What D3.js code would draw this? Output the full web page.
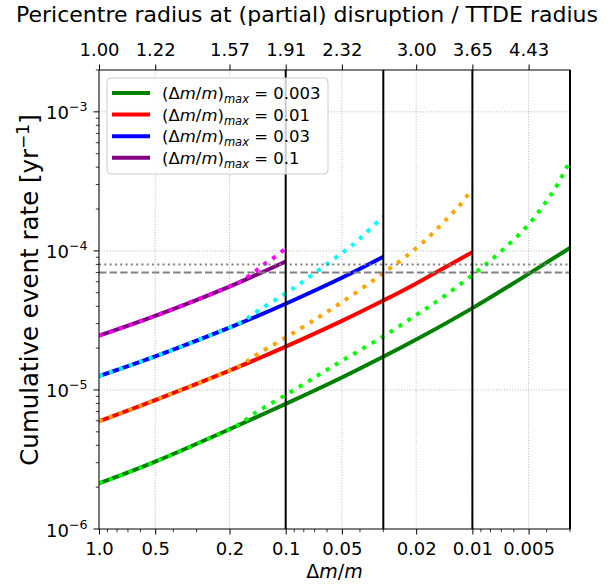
<!DOCTYPE html>
<html><head><meta charset="utf-8">
<script src="https://cdn.jsdelivr.net/npm/d3@7/dist/d3.min.js"></script>
<style>body{margin:0;background:#fff} svg{display:block;font-family:"DejaVu Sans",sans-serif}</style>
</head><body><svg id="c" width="613" height="585"></svg>
<script>
// ---------- data ----------
const xDomain = [1, 0.003];
const yDomain = [1e-6, 2e-3];
const xTickValues = [1, 0.5, 0.2, 0.1, 0.05, 0.02, 0.01, 0.005];
const xTickLabels = ["1.0", "0.5", "0.2", "0.1", "0.05", "0.02", "0.01", "0.005"];
const topTickLabels = ["1.00", "1.22", "1.57", "1.91", "2.32", "3.00", "3.65", "4.43"];
const yTickValues = [1e-6, 1e-5, 1e-4, 1e-3];
const yTickExponents = ["−6", "−5", "−4", "−3"];
const vLines = [0.1, 0.03, 0.01, 0.003];
const hLineDotted = 8e-5;
const hLineDashed = 7e-5;

const legendMax = ["0.003", "0.01", "0.03", "0.1"];
const solidColors = ["green", "red", "blue", "purple"];
const dottedColors = ["lime", "orange", "cyan", "magenta"];

// solid curves
const greenX = [1, 0.5, 0.2, 0.1, 0.05, 0.03, 0.02, 0.01, 0.005, 0.003];
const greenY = [2.13e-6, 3.05e-6, 5.22e-6, 7.94e-6, 1.229e-5, 1.735e-5, 2.304e-5, 3.877e-5, 6.84e-5, 1.051e-4];
const redX = [1, 0.5, 0.2, 0.1, 0.05, 0.03, 0.02, 0.01];
const redY = [5.95e-6, 8.45e-6, 1.379e-5, 2.05e-5, 3.14e-5, 4.4e-5, 5.84e-5, 9.8e-5];
const blueX = [1, 0.5, 0.2, 0.1, 0.05, 0.03];
const blueY = [1.26e-5, 1.745e-5, 2.81e-5, 4.17e-5, 6.41e-5, 9.08e-5];
const purpleX = [1, 0.5, 0.2, 0.1];
const purpleY = [2.46e-5, 3.41e-5, 5.54e-5, 8.4e-5];

// dotted curves
const limeX = [1, 0.5, 0.2, 0.15, 0.1, 0.07, 0.05, 0.03, 0.02, 0.015, 0.01, 0.007, 0.005, 0.004, 0.0035, 0.003];
const limeY = [2.13e-6, 3.05e-6, 5.22e-6, 6.65e-6, 9.2e-6, 1.23e-5, 1.62e-5, 2.43e-5, 3.46e-5, 4.47e-5, 6.7e-5, 9.95e-5, 1.55e-4, 2.29e-4, 3.0e-4, 4.45e-4];
const orangeX = [1, 0.5, 0.2, 0.15, 0.1, 0.07, 0.05, 0.03, 0.02, 0.015, 0.0125, 0.0115, 0.01];
const orangeY = [5.95e-6, 8.45e-6, 1.379e-5, 1.72e-5, 2.38e-5, 3.2e-5, 4.28e-5, 6.9e-5, 1.045e-4, 1.5e-4, 1.93e-4, 2.18e-4, 2.8e-4];
const cyanX = [1, 0.5, 0.2, 0.15, 0.1, 0.07, 0.05, 0.04, 0.03];
const cyanY = [1.26e-5, 1.745e-5, 2.81e-5, 3.5e-5, 4.95e-5, 6.92e-5, 9.64e-5, 1.23e-4, 1.77e-4];
const magentaX = [1, 0.5, 0.2, 0.165, 0.146, 0.132, 0.1166, 0.105, 0.1];
const magentaY = [2.46e-5, 3.41e-5, 5.54e-5, 6.3e-5, 7.1e-5, 7.93e-5, 8.86e-5, 9.9e-5, 1.04e-4];

const solidSeries = [[greenX, greenY], [redX, redY], [blueX, blueY], [purpleX, purpleY]];
const dottedSeries = [[limeX, limeY], [orangeX, orangeY], [cyanX, cyanY], [magentaX, magentaY]];

// ---------- drawing ----------
const L = 99, R = 570, T = 70, B = 529;
const svg = d3.select("#c");
const x = d3.scaleLog().domain(xDomain).range([L, R]);
const y = d3.scaleLog().domain(yDomain).range([B, T]);

svg.append("defs").append("clipPath").attr("id", "clip")
  .append("rect").attr("x", L).attr("y", T).attr("width", R - L).attr("height", B - T);

// grid
const grid = svg.append("g").attr("stroke", "#b0b0b0").attr("stroke-width", 0.9).attr("stroke-dasharray", "1,1.7");
grid.selectAll("line.gx").data(xTickValues).join("line")
  .attr("x1", d => x(d)).attr("x2", d => x(d)).attr("y1", T).attr("y2", B);
grid.selectAll("line.gy").data(yTickValues.filter(v => v > yDomain[0])).join("line")
  .attr("x1", L).attr("x2", R).attr("y1", d => y(d)).attr("y2", d => y(d));

// curves
const plot = svg.append("g").attr("clip-path", "url(#clip)");
const line = d3.line().x(d => x(d[0])).y(d => y(d[1])).curve(d3.curveNatural);
solidSeries.forEach((s, i) => {
  const pts = s[0].map((v, j) => [v, s[1][j]]);
  plot.append("path").attr("d", line(pts)).attr("fill", "none")
    .attr("stroke", solidColors[i]).attr("stroke-width", 4);
  const d = dottedSeries[i];
  const pts2 = d[0].map((v, j) => [v, d[1][j]]);
  plot.append("path").attr("d", line(pts2)).attr("fill", "none")
    .attr("stroke", dottedColors[i]).attr("stroke-width", 4)
    .attr("stroke-dasharray", "4,6.6");
});

// horizontal reference lines
plot.append("line").attr("x1", L).attr("x2", R).attr("y1", y(hLineDotted)).attr("y2", y(hLineDotted))
  .attr("stroke", "gray").attr("stroke-width", 2).attr("stroke-dasharray", "2,3.3");
plot.append("line").attr("x1", L).attr("x2", R).attr("y1", y(hLineDashed)).attr("y2", y(hLineDashed))
  .attr("stroke", "gray").attr("stroke-width", 2).attr("stroke-dasharray", "7.4,3.2");

// vertical lines
svg.append("g").selectAll("line").data(vLines).join("line")
  .attr("x1", d => x(d)).attr("x2", d => x(d)).attr("y1", T).attr("y2", B)
  .attr("stroke", "black").attr("stroke-width", 2);

// frame
svg.append("rect").attr("x", L).attr("y", T).attr("width", R - L).attr("height", B - T)
  .attr("fill", "none").attr("stroke", "black").attr("stroke-width", 1);

// bottom axis
const ax = svg.append("g").attr("transform", `translate(0,${B})`)
  .call(d3.axisBottom(x).tickValues(xTickValues).tickFormat((d, i) => xTickLabels[i]).tickSize(5.5).tickSizeOuter(0));
ax.select(".domain").remove();
ax.selectAll("text").attr("y", 26).attr("dy", null).attr("font-size", 18).attr("font-family", "DejaVu Sans").attr("fill", "black");
// top axis
const axt = svg.append("g").attr("transform", `translate(0,${T})`)
  .call(d3.axisTop(x).tickValues(xTickValues).tickFormat((d, i) => topTickLabels[i]).tickSize(5.5).tickSizeOuter(0));
axt.select(".domain").remove();
axt.selectAll("text").attr("y", -14).attr("dy", null).attr("font-size", 18).attr("font-family", "DejaVu Sans").attr("fill", "black");

// minor ticks
const minorX = [];
for (let e = -3; e <= 0; e++) for (let k = 2; k <= 9; k++) {
  const v = k * Math.pow(10, e);
  if (v <= xDomain[0] && v >= xDomain[1] && !xTickValues.some(t => Math.abs(t - v) / v < 1e-6)) minorX.push(v);
}
svg.append("g").selectAll("line").data(minorX).join("line")
  .attr("x1", d => x(d)).attr("x2", d => x(d)).attr("y1", B).attr("y2", B + 3.2)
  .attr("stroke", "black").attr("stroke-width", 0.8);
const minorY = [];
for (let e = -6; e <= -3; e++) for (let k = 2; k <= 9; k++) {
  const v = k * Math.pow(10, e);
  if (v <= yDomain[1] * 1.0001 && v >= yDomain[0]) minorY.push(v);
}
svg.append("g").selectAll("line").data(minorY).join("line")
  .attr("x1", L - 3.2).attr("x2", L).attr("y1", d => y(d)).attr("y2", d => y(d))
  .attr("stroke", "black").attr("stroke-width", 0.8);

// left axis major ticks + labels
const ly = svg.append("g");
ly.selectAll("line").data(yTickValues).join("line")
  .attr("x1", L - 5.5).attr("x2", L).attr("y1", d => y(d)).attr("y2", d => y(d))
  .attr("stroke", "black").attr("stroke-width", 1);
yTickValues.forEach((v, i) => {
  const t = ly.append("text").attr("x", 87.5).attr("y", y(v) + 7.5)
    .attr("text-anchor", "end").attr("font-size", 18);
  t.append("tspan").text("10");
  t.append("tspan").attr("dy", -8).attr("font-size", 12.6).text(yTickExponents[i]);
});

// axis titles
const xl = svg.append("text").attr("x", (L + R) / 2).attr("y", 578).attr("text-anchor", "middle").attr("font-size", 19);
xl.append("tspan").text("Δ");
xl.append("tspan").attr("font-style", "italic").text("m");
xl.append("tspan").text("/");
xl.append("tspan").attr("font-style", "italic").text("m");

const yl = svg.append("text").attr("transform", `translate(38,290) rotate(-90)`)
  .attr("text-anchor", "middle").attr("font-size", 24.5);
yl.append("tspan").text("Cumulative event rate [yr");
yl.append("tspan").attr("dy", -9.5).attr("font-size", 17).text("−1");
yl.append("tspan").attr("dy", 9.5).text("]");

svg.append("text").attr("x", 307).attr("y", 22).attr("text-anchor", "middle").attr("font-size", 22)
  .text("Pericentre radius at (partial) disruption / TTDE radius");

// legend
const lg = svg.append("g");
lg.append("rect").attr("x", 107).attr("y", 78).attr("width", 221).attr("height", 96).attr("rx", 4)
  .attr("fill", "white").attr("fill-opacity", 0.8).attr("stroke", "#cccccc").attr("stroke-width", 1);
legendMax.forEach((m, i) => {
  const yy = 93 + i * 21.6;
  lg.append("line").attr("x1", 112).attr("x2", 150).attr("y1", yy).attr("y2", yy)
    .attr("stroke", solidColors[i]).attr("stroke-width", 4);
  const t = lg.append("text").attr("x", 162).attr("y", yy + 6).attr("font-size", 16.5);
  t.append("tspan").text("(Δ");
  t.append("tspan").attr("font-style", "italic").text("m");
  t.append("tspan").text("/");
  t.append("tspan").attr("font-style", "italic").text("m");
  t.append("tspan").text(")");
  t.append("tspan").attr("font-style", "italic").attr("font-size", 11.5).attr("dy", 4).text("max");
  t.append("tspan").attr("dy", -4).text(" = " + m);
});
</script></body></html>
